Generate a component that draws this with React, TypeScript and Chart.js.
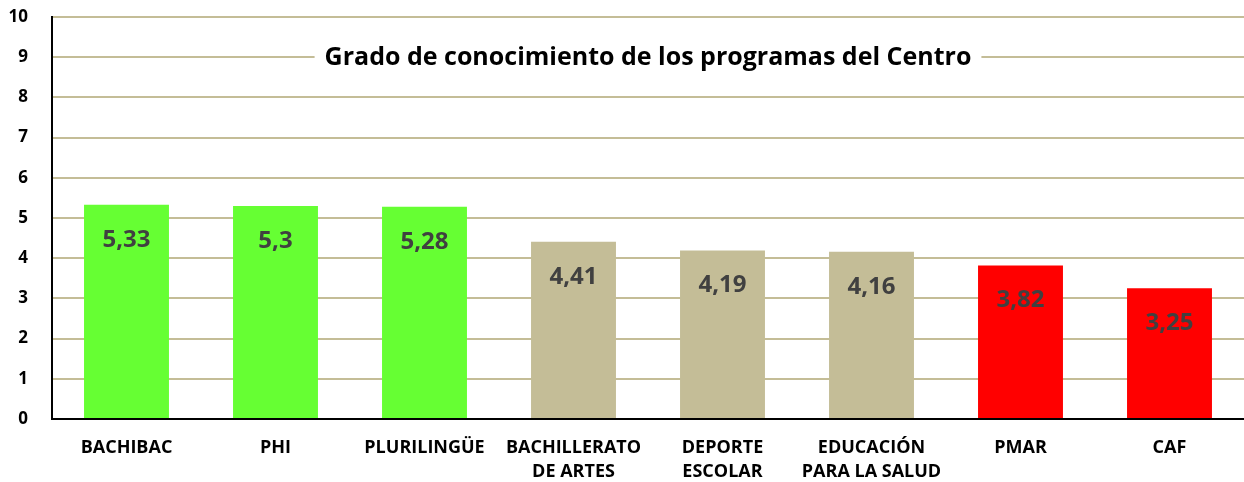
import React, { useEffect, useRef } from "react";
import { Chart, registerables } from "chart.js";

Chart.register(...registerables);

const categories: string[][] = [
  ["BACHIBAC"],
  ["PHI"],
  ["PLURILINGÜE"],
  ["BACHILLERATO", "DE ARTES"],
  ["DEPORTE", "ESCOLAR"],
  ["EDUCACIÓN", "PARA LA SALUD"],
  ["PMAR"],
  ["CAF"],
];
const values: number[] = [5.33, 5.3, 5.28, 4.41, 4.19, 4.16, 3.82, 3.25];
const valueLabels: string[] = ["5,33", "5,3", "5,28", "4,41", "4,19", "4,16", "3,82", "3,25"];
const barColors: string[] = [
  "#66FF33", "#66FF33", "#66FF33",
  "#C4BD97", "#C4BD97", "#C4BD97",
  "#FF0000", "#FF0000",
];
const titleText = "Grado de conocimiento de los programas del Centro";
const yTicks: number[] = [0, 1, 2, 3, 4, 5, 6, 7, 8, 9, 10];

const FONT = "'Open Sans', 'DejaVu Sans', sans-serif";

const overlayPlugin = {
  id: "overlay",
  afterDatasetsDraw(chart: any) {
    const ctx = chart.ctx;
    const meta = chart.getDatasetMeta(0);
    ctx.save();
    ctx.font = `bold 24px ${FONT}`;
    ctx.fillStyle = "#404040";
    ctx.textAlign = "center";
    ctx.textBaseline = "middle";
    meta.data.forEach((bar: any, i: number) => {
      ctx.fillText(valueLabels[i], bar.x, bar.y + 35);
    });
    // title in plot
    const area = chart.chartArea;
    const cx = (area.left + area.right) / 2;
    const cy = chart.scales.y.getPixelForValue(9);
    ctx.font = `bold 25px ${FONT}`;
    const w = ctx.measureText(titleText).width;
    ctx.fillStyle = "#FFFFFF";
    ctx.fillRect(cx - w / 2 - 10, cy - 17, w + 20, 34);
    ctx.fillStyle = "#000000";
    ctx.fillText(titleText, cx, cy + 1);
    ctx.restore();
  },
};

export default function App() {
  const ref = useRef<HTMLCanvasElement>(null);
  useEffect(() => {
    document.body.style.margin = "0";
    const chart = new Chart(ref.current!, {
      type: "bar",
      data: {
        labels: categories,
        datasets: [
          {
            data: values,
            backgroundColor: barColors,
            barPercentage: 0.57,
            categoryPercentage: 1,
          },
        ],
      },
      options: {
        animation: false,
        responsive: false,
        maintainAspectRatio: false,
        layout: { padding: { top: 17, right: 0, left: 0, bottom: 0 } },
        plugins: {
          legend: { display: false },
          tooltip: { enabled: false },
          title: { display: false },
        },
        scales: {
          x: {
            grid: { display: false, drawTicks: false },
            border: { display: true, color: "#000000", width: 2 },
            ticks: {
              color: "#000000",
              font: { family: FONT, size: 18, weight: "bold", lineHeight: 1.33 },
              padding: 17,
              maxRotation: 0,
              autoSkip: false,
            },
            afterFit(scale: any) {
              scale.height = 63;
              scale.paddingLeft = 0;
              scale.paddingRight = 0;
            },
          },
          y: {
            min: 0,
            max: 10,
            afterBuildTicks(scale: any) {
              scale.ticks = yTicks.map((v) => ({ value: v }));
            },
            grid: { color: "#C4BD97", lineWidth: 2, drawTicks: false },
            border: { display: true, color: "#000000", width: 2 },
            ticks: {
              color: "#000000",
              font: { family: FONT, size: 17, weight: "bold" },
              padding: 24,
            },
            afterFit(scale: any) {
              scale.width = 52;
              scale.paddingTop = 0;
              scale.paddingBottom = 0;
            },
          },
        },
      },
      plugins: [overlayPlugin],
    });
    return () => chart.destroy();
  }, []);
  return (
    <div style={{ width: 1244, height: 482 }}>
      <canvas ref={ref} width={1244} height={482} style={{ display: "block" }} />
    </div>
  );
}
